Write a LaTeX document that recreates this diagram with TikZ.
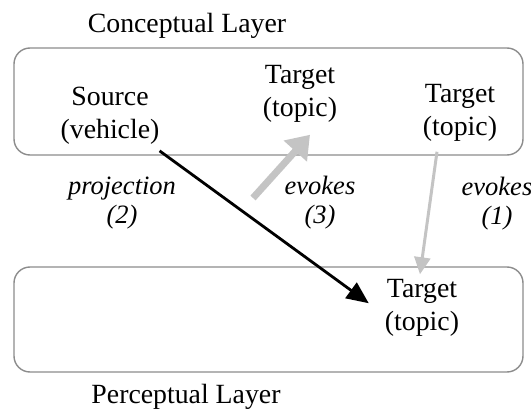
\documentclass[tikz,border=0pt]{standalone}
\usepackage{fontspec}
\setmainfont{Liberation Serif}
\usetikzlibrary{arrows.meta,calc}
\definecolor{arrgray}{HTML}{C4C4C4}
\definecolor{boxgray}{HTML}{8C8C8C}
\begin{document}
\begin{tikzpicture}[x=1pt,y=-1pt,
  layer/.style={draw=boxgray,line width=1.4pt,rounded corners=16pt,minimum width=509pt,inner sep=0pt},
  txt/.style={align=center,inner sep=0pt,font=\fontsize{27.8}{33}\selectfont},
  lbl/.style={align=center,inner sep=0pt,font=\fontsize{26.5}{29}\selectfont\itshape},
  blackarrow/.style={line width=2.8pt,-{Triangle[length=22pt,width=19pt]}},
  thickgray/.style={draw=arrgray,line width=7pt,-{Triangle[length=22pt,width=30pt]}},
  thingray/.style={draw=arrgray,line width=3pt,-{Triangle[length=17pt,width=16pt]}}]
\useasboundingbox (0,0) rectangle (531,415);
\node[layer,minimum height=107pt] (up) at (268.5,101.5) {};
\node[layer,minimum height=105pt] (lo) at (268.5,319.5) {};
\node[txt] (cl) at (187,26) {Conceptual Layer};
\node[txt] (pl) at (186,397) {Perceptual Layer};
\node[txt] (src) at (110,116) {Source\\(vehicle)};
\node[txt] (mt) at (300,94) {Target\\(topic)};
\node[txt] (rt) at (460,113) {Target\\(topic)};
\node[txt] (bt) at (422,308) {Target\\(topic)};
\node[lbl] (l2) at (122,203) {projection\\(2)};
\node[lbl] (l3) at (320,203) {evokes\\(3)};
\node[lbl] (l1) at (497,204) {evokes\\(1)};
\coordinate (g3) at (253,198);
\draw[blackarrow] ($(src.south east)+(0,6)$) -- ($(bt.north west)+(-16,24)$);
\draw[thickgray] (g3) -- ($(mt.south)+(10,12)$);
\draw[thingray] ($(rt.south)+(-23,10)$) -- ($(bt.north)+(-2,-5)$);
\end{tikzpicture}
\end{document}
